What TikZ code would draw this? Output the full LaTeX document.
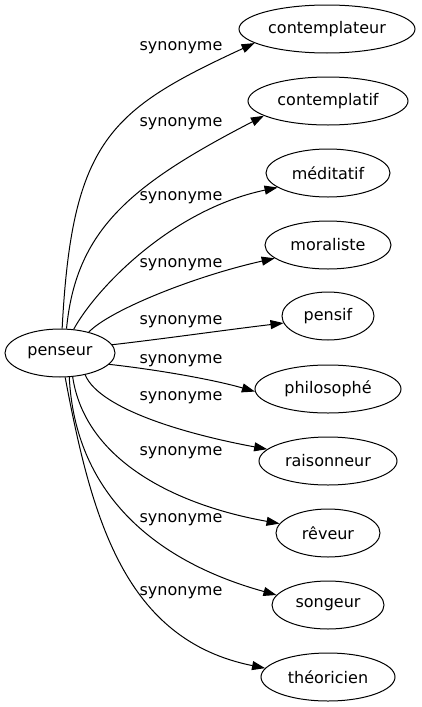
\documentclass[tikz,border=0pt]{standalone}
\usepackage{fontspec}
\setmainfont{DejaVu Sans}
\usetikzlibrary{arrows.meta,shapes.geometric}

\begin{document}
\begin{tikzpicture}[->, >={Triangle[length=13pt,width=9pt]}, x=1pt, y=-1pt,
  line width=1pt, font=\fontsize{16}{19}\selectfont,
  word/.style={draw, ellipse, inner sep=0pt, minimum height=48pt},
  rel/.style={inner sep=0pt}]
\useasboundingbox (0,0) rectangle (422,707);
\node[word, minimum width=110pt] (P) at (60,353) {penseur};
\node[word, minimum width=176pt] (C1) at (327,29) {contemplateur};
\node[word, minimum width=160pt] (C2) at (328,101) {contemplatif};
\node[word, minimum width=124pt] (M1) at (328,173) {méditatif};
\node[word, minimum width=126pt] (M2) at (328,245) {moraliste};
\node[word, minimum width=92pt] (P1) at (328,316) {pensif};
\node[word, minimum width=146pt] (P2) at (328,389) {philosophé};
\node[word, minimum width=138pt] (R1) at (328,461) {raisonneur};
\node[word, minimum width=104pt] (R2) at (328,533) {rêveur};
\node[word, minimum width=112pt] (S) at (328,605) {songeur};
\node[word, minimum width=134pt] (T) at (328,677) {théoricien};
% edges
\draw (P.85) .. controls (72,140) and (110,110) .. (C1.191);
\draw (P.75) .. controls (76,230) and (130,185) .. (C2.193);
\draw (P.60) .. controls (95,290) and (170,210) .. (M1.196);
\draw (P.36) .. controls (110,310) and (195,276) .. (M2.194);
\draw (P.9) .. controls (170,338) and (225,330) .. (P1.189);
\draw (P.-13) .. controls (160,370) and (215,380) .. (P2.182);
\draw (P.-41) .. controls (100,410) and (190,435) .. (R1.169);
\draw (P.-62) .. controls (85,460) and (175,505) .. (R2.169);
\draw (P.-69) .. controls (75,490) and (150,560) .. (S.169);
\draw (P.-78) .. controls (92,520) and (125,640) .. (T.172);
% labels
\node[rel] (l1) at (181,48) {synonyme};
\node[rel] (l2) at (181,124) {synonyme};
\node[rel] (l3) at (181,198) {synonyme};
\node[rel] (l4) at (181,265) {synonyme};
\node[rel] (l5) at (181,322) {synonyme};
\node[rel] (l6) at (181,361) {synonyme};
\node[rel] (l7) at (181,398) {synonyme};
\node[rel] (l8) at (181,453) {synonyme};
\node[rel] (l9) at (181,520) {synonyme};
\node[rel] (l10) at (181,593) {synonyme};
\end{tikzpicture}
\end{document}
